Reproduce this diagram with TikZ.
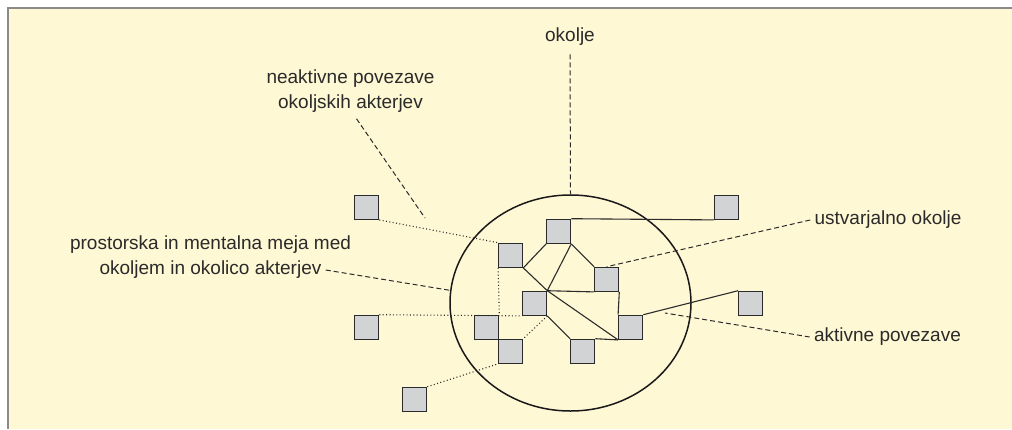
\documentclass[tikz,border=0pt]{standalone}
\usepackage{fontspec}
\setmainfont{Liberation Sans}
\usepackage{tikz}
\usetikzlibrary{shapes.geometric,positioning}
\definecolor{panelc}{HTML}{FFF8D5}
\definecolor{framec}{HTML}{8A8A8A}
\definecolor{actc}{HTML}{D2D3D5}
\definecolor{linec}{HTML}{2B2B2B}
\definecolor{txtc}{HTML}{2A2A2A}
\tikzset{
  act/.style={draw=linec,line width=0.6pt,fill=actc,minimum size=12pt,inner sep=0pt},
  akt/.style={linec,line width=0.55pt},
  neakt/.style={linec,line width=0.55pt,dash pattern=on 0.5pt off 1.2pt},
  lab/.style={linec,line width=0.5pt,dash pattern=on 2.5pt off 1.5pt},
  txt/.style={text=txtc,font=\fontsize{9.5}{12.5}\selectfont,inner sep=2pt,align=center}
}

\begin{document}
\begin{tikzpicture}[x=0.5pt,y=-0.5pt]
\useasboundingbox (0,0) rectangle (1012,429);
\fill[panelc] (7,7) rectangle (1012,429);
\draw[framec,line width=1pt] (7.5,429) -- (7.5,7.5) -- (1012,7.5);
% okolje
\node[ellipse,draw=black!90,line width=0.75pt,minimum width=120.5pt,minimum height=108pt,inner sep=0pt] (env) at (570.5,303) {};
% akterji
\foreach \nm/\i/\j in {z1/0/0,z2/0/5,z3/2/8,z4/15/0,z5/16/4,n1/6/2,n2/8/1,n3/10/3,n4/7/4,n5/5/5,n6/6/6,n7/9/6,n8/11/5}{
 \node[act] (\nm) at ({366.7+24*\i},{207.3+24*\j}) {};}
% aktivne povezave
\draw[akt] (n2.north east) -- (z4.south west);
\draw[akt] (n1.south east) -- (n2.south west);
\draw[akt] (n2.south east) -- (n3.north west);
\draw[akt] (n2.south east) -- (n4.north east);
\draw[akt] (n1.south east) -- (n4.north east) -- (n8.south west);
\draw[akt] (n4.north east) -- (n3.south west);
\draw[akt] (n3.south east) -- (n8.north west);
\draw[akt] (n4.south east) -- (n7.north west);
\draw[akt] (n7.north east) -- (n8.south west);
\draw[akt] (n8.north east) -- (z5.north west);
% neaktivne povezave
\draw[neakt] (z1.south east) -- (n1.north west);
\draw[neakt] (n1.south west) -- (n5.north east);
\draw[neakt] (z2.north east) -- (n4.south west);
\draw[neakt] (n4.south east) -- (n6.north east);
\draw[neakt] (z3.north east) -- (n6.south west);
% oznake
\node[txt] (okol) at (570,37) {okolje};
\node[txt] (neak) at (350.5,91) {neaktivne povezave\\okoljskih akterjev};
\node[txt] (prost) at (210.5,245) {prostorska in mentalna meja med};
\node[txt] (prost2) at (210.5,270) {okoljem in okolico akterjev};
\node[txt] (ustv) at (888,220) {ustvarjalno okolje};
\node[txt] (aktp) at (887.5,337) {aktivne povezave};
\coordinate (p1) at (425,218);
\coordinate (p2) at (665,313);
\draw[lab] ([yshift=-2pt]okol.south) -- (env.north);
\draw[lab] ([xshift=3pt,yshift=-1pt]neak.south) -- (p1);
\draw[lab] (prost2.east) -- (env.174);
\draw[lab] (ustv.west) -- (n3.north);
\draw[lab] (aktp.west) -- (p2);
\end{tikzpicture}
\end{document}
